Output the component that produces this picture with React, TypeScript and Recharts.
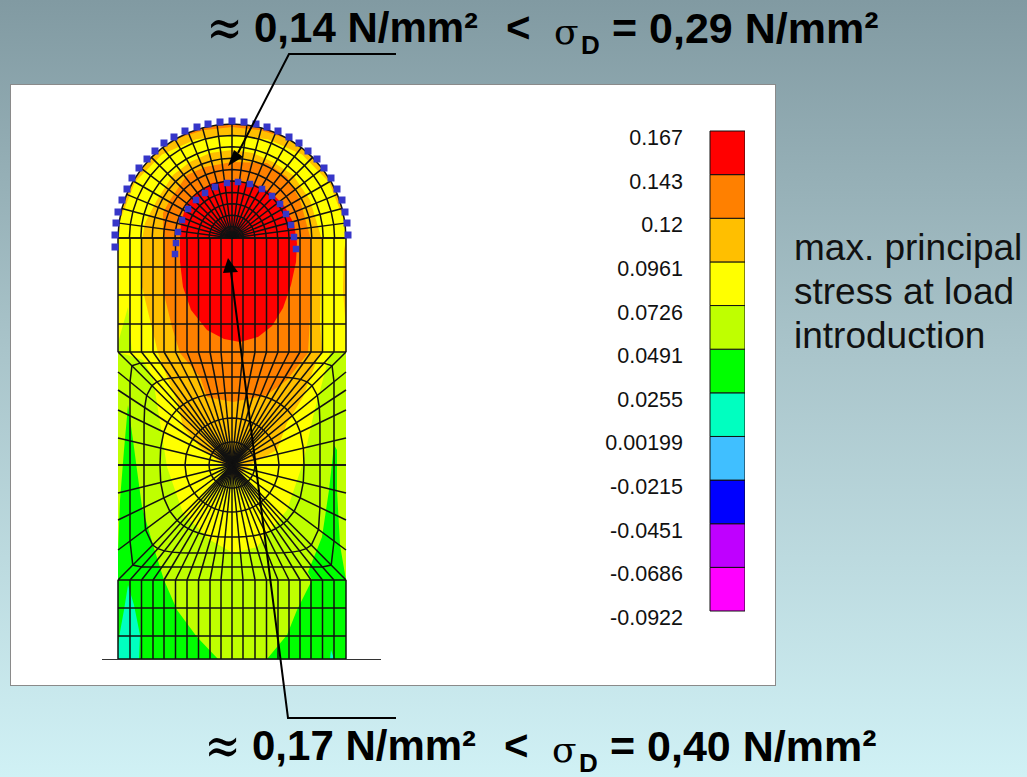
import { ScatterChart, Scatter, XAxis, YAxis, BarChart, Bar } from 'recharts';

type P = { x: number; y: number };

// legend
const legendLabels = ['0.167', '0.143', '0.12', '0.0961', '0.0726', '0.0491', '0.0255', '0.00199', '-0.0215', '-0.0451', '-0.0686', '-0.0922'];
const legendColors = ['#ff0000', '#ff8000', '#ffbf00', '#ffff00', '#bfff00', '#00ff00', '#00ffc0', '#40bfff', '#0000ff', '#bf00ff', '#ff00ff'];

// mesh
const columnX = [118, 130, 141.5, 153, 164, 175.5, 187, 198.5, 210, 221, 232, 243, 255, 266.5, 278, 289, 300, 311, 322.5, 334, 346];
const upperRows = [238, 267, 295, 324, 352];
const lowerRows = [580, 608, 636, 659];
const archRadii = [11.4, 22.8, 34.2, 45.6, 57, 68.4, 79.8, 91.2, 102.6, 114];
const archAngles = [0, 7.5, 15, 22.5, 30, 37.5, 45, 52.5, 60, 67.5, 75, 82.5, 90, 97.5, 105, 112.5, 120, 127.5, 135, 142.5, 150, 157.5, 165, 172.5, 180];
const sideRows = [372, 390, 410, 438, 465, 493, 520, 550];
const ringSizes = [23, 47, 72, 88, 102];
const ringSquareness = [2, 2, 2.6, 7, 30];

// contour regions
const bottomGreen = [[118, 580], [346, 580], [346, 659], [118, 659]];
const middleLime = [[118, 352], [346, 352], [346, 580], [118, 580]];
const greenLeft = [[128, 405], [124, 450], [120, 500], [118, 553], [118, 580], [164, 580], [153, 545], [142, 507], [137, 470], [133, 440]];
const greenRight = [[334, 445], [329, 490], [322, 537], [308, 572], [312, 580], [346, 580], [340, 545], [337, 490], [337, 450]];
const limeBell = [[164, 580], [177, 610], [197, 637], [218, 659], [267, 659], [287, 635], [297, 610], [312, 580]];
const cyanLeft = [[128, 585], [124, 610], [120, 632], [118, 645], [118, 659], [139, 659], [140, 635], [134, 605]];
const cyanRight = [[331, 650], [330, 659], [334, 659]];
const yellowBell = [[118, 352], [143, 360], [153, 378], [167, 467], [183, 513], [210, 540], [233, 553], [257, 547], [287, 510], [303, 463], [313, 417], [330, 353], [346, 352]];
const limeWedge = [[118, 353], [118, 343], [128, 307], [132, 353]];
const goldEdge = [[346, 240], [344, 250], [343, 290], [346, 330]];
const rimGoldInner = [[172, 114], [150, 112], [130, 109], [110, 105], [90, 103], [70, 105], [50, 109], [30, 112], [8, 114]];
const rimOrangeInner = [[120, 114], [105, 111.5], [90, 111], [75, 111.5], [60, 114]];
const goldInner = [[232, 150], [210, 153], [190, 162], [173, 175], [157, 200], [145, 223], [142, 240], [142, 287], [150, 320], [158, 353], [167, 377], [178, 403], [183, 427], [200, 447], [227, 467], [233, 480], [253, 463], [277, 450], [287, 423], [303, 397], [317, 360], [322, 353], [320, 320], [322, 240], [310, 200], [293, 175], [273, 162], [253, 153]];
const orangeInner = [[232, 162], [205, 167], [187, 175], [170, 200], [163, 213], [163, 240], [163, 290], [172, 327], [180, 353], [200, 377], [207, 397], [233, 402], [267, 395], [287, 380], [308, 353], [310, 317], [312, 267], [311, 240], [300, 200], [287, 177], [267, 163]];
const redInner = [[232, 180], [212, 183], [197, 192], [186, 206], [181, 222], [180, 240], [180, 262], [183, 287], [191, 310], [207, 330], [224, 339], [240, 342], [258, 337], [272, 326], [283, 308], [291, 285], [296, 262], [297, 243], [294, 224], [285, 207], [272, 193], [254, 184]];

// annotations
const outerDots = [[115, 247], [115, 235], [116, 223], [118, 212], [122, 200], [127, 189], [132, 178], [139, 168], [147, 159], [155, 151], [164, 143], [174, 137], [185, 131], [197, 127], [208, 124], [220, 122], [232, 121], [244, 122], [256, 124], [267, 127], [278, 131], [289, 137], [299, 143], [308, 151], [317, 159], [324, 168], [331, 178], [337, 189], [342, 200], [345, 212], [347, 223], [348, 235]];
const innerDots = [[175, 254], [176, 243], [178, 232], [182, 220], [188, 209], [196, 200], [205, 193], [215, 187], [227, 183], [238, 182], [250, 184], [262, 189], [272, 196], [280, 204], [286, 214], [291, 225], [294, 237], [296, 249]];
const topLeader = [[396, 54], [289, 54], [238, 153]];
const topHead = [[228, 166], [234, 150], [243, 157]];
const bottomLeader = [[396, 718], [288, 718], [231, 272]];
const bottomHead = [[228, 258], [223, 273], [238, 272]];
const baseLine = [[102, 659.5], [381, 659.5]];

const toPoints = (list: number[][]): P[] => list.map(([x, y]) => ({ x, y }));
const polar = (r: number, deg: number): P => ({
  x: 232 + r * Math.cos((deg * Math.PI) / 180),
  y: 238 - r * Math.sin((deg * Math.PI) / 180),
});
const arcPoints = (r: number, angles: number[]) => angles.map((a) => polar(r, a));
const polarPoints = (list: number[][]) => list.map(([a, r]) => polar(r, a));

// nodes round the square block, top, right, bottom, left
const blockNodes: P[] = [
  ...columnX.map((x) => ({ x, y: 352 })),
  ...sideRows.map((y) => ({ x: 346, y })),
  ...[...columnX].reverse().map((x) => ({ x, y: 580 })),
  ...[...sideRows].reverse().map((y) => ({ x: 118, y })),
];
const blockCentre = { x: 232, y: 465 };
const ringPoint = (node: P, size: number, n: number): P => {
  const dx = node.x - blockCentre.x;
  const dy = node.y - blockCentre.y;
  const len = Math.hypot(dx, dy);
  const r = size / Math.pow(Math.pow(Math.abs(dx / len), n) + Math.pow(Math.abs(dy / len), n), 1 / n);
  return { x: blockCentre.x + (dx / len) * r, y: blockCentre.y + (dy / len) * r };
};

const regions: { color: string; points: P[] }[] = [
  { color: '#bfff00', points: toPoints(middleLime) },
  { color: '#00ff00', points: toPoints(greenLeft) },
  { color: '#00ff00', points: toPoints(greenRight) },
  { color: '#00ff00', points: toPoints(bottomGreen) },
  { color: '#bfff00', points: toPoints(limeBell) },
  { color: '#00ffc0', points: toPoints(cyanLeft) },
  { color: '#00ffc0', points: toPoints(cyanRight) },
  { color: '#ffff00', points: [...arcPoints(114, archAngles), ...toPoints(yellowBell)] },
  { color: '#bfff00', points: toPoints(limeWedge) },
  { color: '#ffbf00', points: [...arcPoints(114, archAngles.filter((a) => a >= 7.5 && a <= 172.5)), ...polarPoints(rimGoldInner)] },
  { color: '#ffbf00', points: toPoints(goldEdge) },
  { color: '#ff8000', points: [...arcPoints(114, archAngles.filter((a) => a >= 60 && a <= 120)), ...polarPoints(rimOrangeInner)] },
  { color: '#ffbf00', points: toPoints(goldInner) },
  { color: '#ff8000', points: toPoints(orangeInner) },
  { color: '#ff0000', points: toPoints(redInner) },
];

const meshLines: P[][] = [
  ...columnX.map((x) => [{ x, y: upperRows[0] }, { x, y: upperRows[upperRows.length - 1] }]),
  ...columnX.map((x) => [{ x, y: lowerRows[0] }, { x, y: lowerRows[lowerRows.length - 1] }]),
  ...upperRows.map((y) => [{ x: 118, y }, { x: 346, y }]),
  ...lowerRows.map((y) => [{ x: 118, y }, { x: 346, y }]),
  ...archRadii.map((r) => arcPoints(r, archAngles)),
  ...archAngles.map((a) => [polar(0, a), polar(114, a)]),
  ...blockNodes.map((n) => [blockCentre, n]),
  ...ringSizes.map((s, i) => {
    const ring = blockNodes.map((n) => ringPoint(n, s, ringSquareness[i]));
    return [...ring, ring[0]];
  }),
  [{ x: 118, y: 465 }, { x: 346, y: 465 }],
];

const noDot = () => <g />;
const square = (size: number) => (p: any) => (
  <rect x={p.cx - size / 2} y={p.cy - size / 2} width={size} height={size} fill="#3636c8" />
);

const legendRow: Record<string, number | string> = { name: 'stress' };
legendColors.forEach((_, i) => {
  legendRow[`band${i}`] = 1;
});
const legendTicks = legendLabels.map((_, i) => i);

const LegendTick = ({ y, payload }: any) => (
  <text x={93} y={y + 14} textAnchor="end" fontFamily="Liberation Sans" fontSize={21.5} fill="#111">
    {legendLabels[legendLabels.length - 1 - payload.value]}
  </text>
);

const boldText = { position: 'absolute', fontFamily: 'Liberation Sans', fontWeight: 700, color: '#000', whiteSpace: 'pre', lineHeight: 1 } as const;

function Title({ top, left, value, limit }: { top: number; left: number; value: string; limit: string }) {
  return (
    <>
      <span style={{ ...boldText, top: top - 6, left: left - 52, fontSize: 54, fontFamily: 'DejaVu Serif', fontWeight: 400, transform: 'scaleX(0.8)' }}>≈</span>
      <span style={{ ...boldText, top, left, fontSize: 42 }}>{value}</span>
      <span style={{ ...boldText, top, left: left + 252, fontSize: 42 }}>{'<'}</span>
      <span style={{ ...boldText, top: top + 7, left: left + 300, fontSize: 36, fontFamily: 'DejaVu Serif', fontWeight: 400 }}>σ</span>
      <span style={{ ...boldText, top: top + 27, left: left + 327, fontSize: 26, lineHeight: 0.9 }}>D</span>
      <span style={{ ...boldText, top, left: left + 358, fontSize: 43 }}>{limit}</span>
    </>
  );
}

export default function App() {
  return (
    <div
      style={{
        position: 'fixed',
        left: 0,
        top: 0,
        width: 1027,
        height: 777,
        overflow: 'hidden',
        background: 'linear-gradient(180deg, #819aa2 0%, #a9c4ca 45%, #d0f1f5 100%)',
      }}
    >
      {/* white panel */}
      <div style={{ position: 'absolute', left: 10, top: 84, width: 764, height: 600, background: '#fff', border: '1.5px solid #8a8a8a' }} />

      <div style={{ position: 'absolute', left: 0, top: 0 }}>
        <ScatterChart width={1027} height={777} margin={{ top: 0, right: 0, bottom: 0, left: 0 }}>
          <XAxis type="number" dataKey="x" domain={[0, 1027]} hide allowDataOverflow />
          <YAxis type="number" dataKey="y" domain={[0, 777]} reversed hide allowDataOverflow width={0} />
          {regions.map((r, i) => (
            <Scatter key={`region-${i}`} data={r.points} line={{ fill: r.color, stroke: 'none' }} shape={noDot} isAnimationActive={false} />
          ))}
          {meshLines.map((pts, i) => (
            <Scatter key={`mesh-${i}`} data={pts} line={{ stroke: '#111', strokeWidth: 1.5 }} shape={noDot} isAnimationActive={false} />
          ))}
          <Scatter data={toPoints(baseLine)} line={{ stroke: '#333', strokeWidth: 1 }} shape={noDot} isAnimationActive={false} />
          <Scatter data={toPoints(outerDots)} shape={square(7)} isAnimationActive={false} />
          <Scatter data={toPoints(innerDots)} shape={square(6.5)} isAnimationActive={false} />
          <Scatter data={toPoints(topLeader)} line={{ stroke: '#000', strokeWidth: 2 }} shape={noDot} isAnimationActive={false} />
          <Scatter data={toPoints(topHead)} line={{ fill: '#000', stroke: 'none' }} shape={noDot} isAnimationActive={false} />
          <Scatter data={toPoints(bottomLeader)} line={{ stroke: '#000', strokeWidth: 2 }} shape={noDot} isAnimationActive={false} />
          <Scatter data={toPoints(bottomHead)} line={{ fill: '#000', stroke: 'none' }} shape={noDot} isAnimationActive={false} />
        </ScatterChart>
      </div>

      {/* colour scale */}
      <div style={{ position: 'absolute', left: 590, top: 111 }}>
        <BarChart width={155} height={530} data={[legendRow]} margin={{ top: 20, right: 0, bottom: 30, left: 0 }} barCategoryGap={0}>
          <XAxis dataKey="name" hide />
          <YAxis type="number" domain={[0, 11]} ticks={legendTicks} interval={0} width={120} axisLine={false} tickLine={false} tick={<LegendTick />} />
          {[...legendColors].reverse().map((c, i) => (
            <Bar key={c} dataKey={`band${legendColors.length - 1 - i}`} stackId="scale" fill={c} stroke="#111" strokeWidth={1} isAnimationActive={false} />
          ))}
        </BarChart>
      </div>

      <Title top={7} left={254} value={'0,14 N/mm²'} limit={'= 0,29 N/mm²'} />
      <Title top={725} left={252} value={'0,17 N/mm²'} limit={'= 0,40 N/mm²'} />

      <div style={{ position: 'absolute', left: 794, top: 226, fontFamily: 'Liberation Sans', fontSize: 37, lineHeight: '44px', color: '#111' }}>
        max. principal<br />stress at load<br />introduction
      </div>
    </div>
  );
}
